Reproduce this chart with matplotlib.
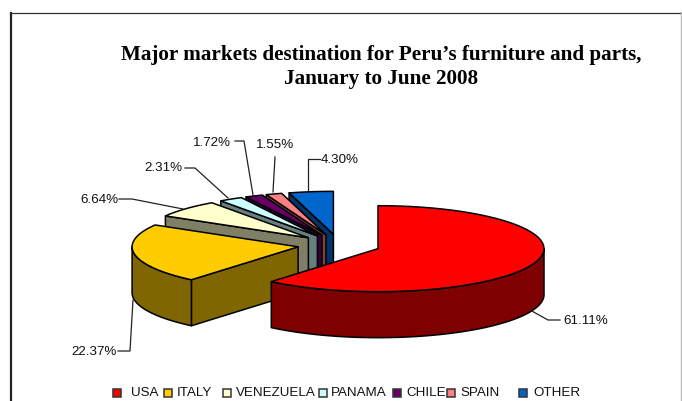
import numpy as np
import matplotlib
matplotlib.use("Agg")
import matplotlib.pyplot as plt
from matplotlib.patches import Polygon, Rectangle

names = ["USA", "ITALY", "VENEZUELA", "PANAMA", "CHILE", "SPAIN", "OTHER"]
shares = [61.11, 22.37, 6.64, 2.31, 1.72, 1.55, 4.30]
top_colors = ["#FF0000", "#FFCC00", "#FFFFCC", "#CCFFFF", "#660066", "#FF8080", "#0066CC"]
side_colors = ["#7F0000", "#7F6600", "#7F7F66", "#668080", "#330033", "#804040", "#003366"]

# label text position, then the leader line drawn from the label to the slice
label_pos = [(586, 321), (94, 352), (99, 200), (163, 168), (212, 143), (275, 145), (340, 160)]
leaders = [
    [(560, 320), (548, 320), (530, 310)],
    [(118, 351), (130, 351), (133, 300)],
    [(119, 199), (132, 199), (183, 209)],
    [(185, 168), (195, 168), (228, 198)],
    [(235, 141), (244, 141), (253, 195)],
    [(275, 157), (273, 192)],
    [(320, 159), (308, 159), (308, 191)],
]

# x of legend box / legend text
legend_box_x = [113, 164, 223, 319, 393, 447, 519]
legend_text_x = [131, 177, 236, 331, 406, 460, 533]

cx, cy = 339, 245
rx, ry = 166, 43
depth = 46
explode = 0.25

fig = plt.figure(figsize=(6.82, 4.01), dpi=100)
ax = fig.add_axes([0, 0, 1, 1])
ax.set_xlim(0, 682)
ax.set_ylim(401, 0)
ax.axis("off")


def rim(apex, a0, a1, n=60):
    # points on the outer edge, angles clockwise from 12 o'clock
    t = np.radians(np.linspace(a0, a1, n))
    return np.column_stack([apex[0] + rx * np.sin(t), apex[1] - ry * np.cos(t)])


def face(points, color):
    ax.add_patch(Polygon(points, closed=True, facecolor=color, edgecolor="black",
                         linewidth=1.1, joinstyle="round"))


edges = np.concatenate([[0], np.cumsum(shares)]) * 3.6

# back slices first, USA goes on top last
for i in [6, 5, 4, 3, 2, 1, 0]:
    a0, a1 = edges[i], edges[i + 1]
    mid = np.radians((a0 + a1) / 2)
    apex = (cx + explode * rx * np.sin(mid), cy - explode * ry * np.cos(mid))
    drop = np.array([0, depth])

    if np.sin(np.radians(a0)) < 0:
        p = rim(apex, a0, a0, 1)[0]
        face([apex, p, p + drop, np.array(apex) + drop], side_colors[i])
    if np.sin(np.radians(a1)) > 0:
        p = rim(apex, a1, a1, 1)[0]
        face([apex, p, p + drop, np.array(apex) + drop], side_colors[i])

    lo, hi = max(a0, 90), min(a1, 270)
    if lo < hi:
        arc = rim(apex, lo, hi)
        face(np.vstack([arc, (arc + drop)[::-1]]), side_colors[i])

    face(np.vstack([[apex], rim(apex, a0, a1)]), top_colors[i])

label_font = dict(family="Liberation Sans", fontsize=9.6, color="#111111")

for share, pos, line in zip(shares, label_pos, leaders):
    ax.text(pos[0], pos[1], f"{share:.2f}%", ha="center", va="center", **label_font)
    xs, ys = zip(*line)
    ax.plot(xs, ys, color="#222222", linewidth=0.9)

for name, color, bx, tx in zip(names, top_colors, legend_box_x, legend_text_x):
    ax.add_patch(Rectangle((bx, 389), 8, 8, facecolor=color, edgecolor="#333333", linewidth=1.1))
    ax.text(tx, 393, name, ha="left", va="center", **label_font)

ax.text(381, 55, "Major markets destination for Peru\u2019s furniture and parts,",
        ha="center", va="center", family="Liberation Serif", fontweight="bold",
        fontsize=15.2, color="black")
ax.text(381, 79, "January to June 2008", ha="center", va="center",
        family="Liberation Serif", fontweight="bold", fontsize=15.2, color="black")

# chart frame, runs off the bottom of the picture
ax.plot([10.5, 10.5], [401, 12.5], color="#222222", linewidth=1.6)
ax.plot([10, 681], [12.5, 12.5], color="#333333", linewidth=0.9)
ax.plot([681, 681], [12, 401], color="#BBBBBB", linewidth=1.0)

fig.savefig("out.png", dpi=100)
